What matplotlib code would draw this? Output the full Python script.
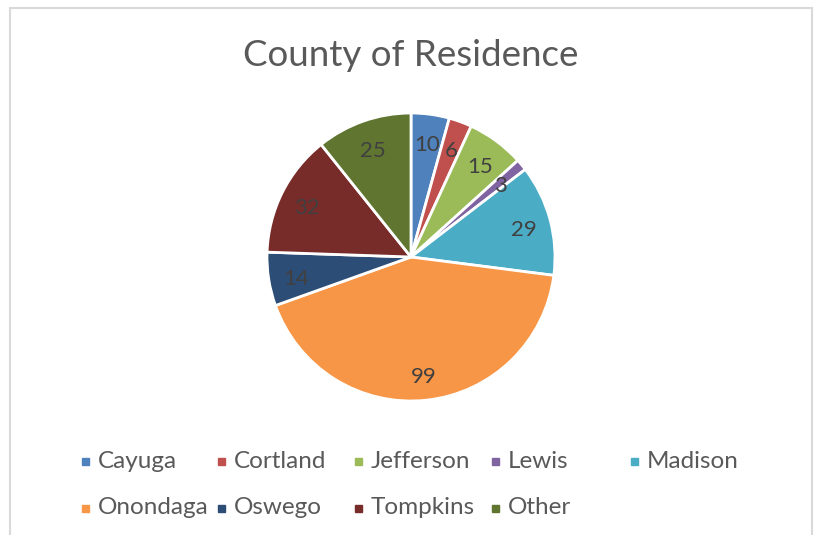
import matplotlib.pyplot as plt
from matplotlib.patches import Rectangle

counties = ['Cayuga', 'Cortland', 'Jefferson', 'Lewis', 'Madison',
            'Onondaga', 'Oswego', 'Tompkins', 'Other']
counts = [10, 6, 15, 3, 29, 99, 14, 32, 25]
colors = ['#4F81BD', '#C0504D', '#9BBB59', '#8064A2', '#4BACC6',
          '#F79646', '#2C4D75', '#772C2A', '#5F7530']

plt.rcParams['font.family'] = ['Lato', 'DejaVu Sans']

W, H = 817, 535
fig = plt.figure(figsize=(W / 100, H / 100), dpi=100)

# chart border like the Excel chart area
fig.patches.append(Rectangle((10 / W, -0.05), 802 / W, (H - 8) / H + 0.05,
                             transform=fig.transFigure, fill=False,
                             edgecolor='#D9D9D9', linewidth=1.5))

cx, cy, r = 411, H - 257, 144
ax = fig.add_axes([(cx - r) / W, (cy - r) / H, 2 * r / W, 2 * r / H])
wedges, texts = ax.pie(counts, colors=colors, startangle=90, counterclock=False,
                       labels=[str(c) for c in counts], labeldistance=0.81,
                       wedgeprops={'edgecolor': 'white', 'linewidth': 2},
                       textprops={'fontsize': 16, 'color': '#404040'})
for w in wedges:
    w.set_clip_on(False)
for t in texts:
    t.set_ha('center')
    t.set_va('center')
    px, py = t.get_position()
    t.set_position((px, py - 0.025))
ax.set_xlim(-1, 1)
ax.set_ylim(-1, 1)
ax.set_aspect('equal')

fig.text(cx / W, 1 - 56 / H, 'County of Residence', ha='center', va='center',
         fontsize=26.5, color='#595959')

# legend laid out in Excel style, fixed column width
col_x = [85, 221, 358, 495, 634]
row_y = [461, 508]
for i, name in enumerate(counties):
    x = col_x[i % 5]
    y = H - row_y[i // 5]
    fig.patches.append(Rectangle(((x - 3.5) / W, (y - 3.5) / H), 7 / W, 7 / H,
                                 transform=fig.transFigure, color=colors[i]))
    fig.text((x + 13) / W, y / H, name, ha='left', va='center',
             fontsize=17.5, color='#595959')

fig.savefig('out.png', dpi=100)
